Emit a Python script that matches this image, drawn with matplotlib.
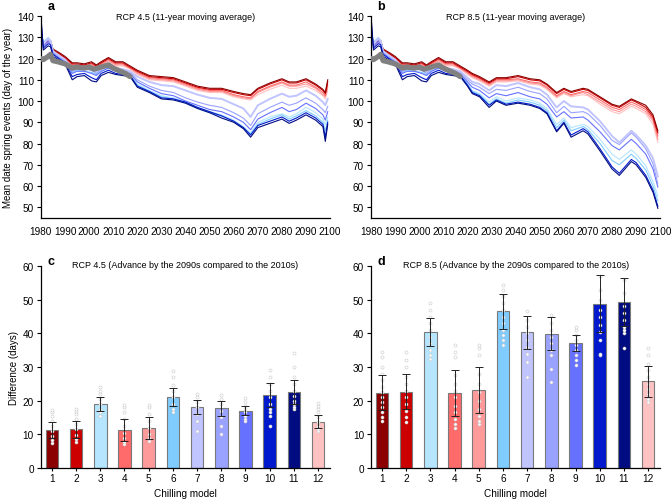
import matplotlib
matplotlib.use("Agg")
import matplotlib.pyplot as plt
import numpy as np

plt.rcParams['font.family'] = ['Liberation Sans', 'DejaVu Sans']
plt.rcParams['font.size'] = 7

models = [1, 2, 3, 4, 5, 6, 7, 8, 9, 10, 11, 12]
colors = {1: '#8B0000', 2: '#CC0000', 3: '#B5E5FF', 4: '#FF6A6A', 5: '#FF9A9A',
          6: '#80CCFF', 7: '#C0C4FF', 8: '#9AA2FF', 9: '#6672FF', 10: '#0019CC',
          11: '#000C80', 12: '#FFC2C2'}

# historical part (same for both scenarios)
yrs_hist = [1980, 1981, 1983, 1984, 1985, 1988, 1990, 1993, 1995, 1998, 2001, 2003,
            2005, 2008, 2011, 2014, 2017]
hist = {
    1: [131.5, 127.5, 129.0, 128.5, 124.5, 122.5, 121.0, 118.0, 118.0, 117.5, 118.5, 117.0, 118.5, 120.5, 118.5, 118.5, 116.5],
    2: [131.0, 127.0, 128.5, 128.0, 124.0, 122.0, 120.5, 117.5, 117.5, 117.0, 118.0, 116.5, 118.0, 120.0, 118.0, 118.0, 116.0],
    4: [130.5, 126.5, 128.5, 127.5, 124.0, 122.0, 120.0, 117.0, 117.0, 116.5, 117.5, 116.0, 117.5, 119.5, 117.5, 117.5, 115.5],
    5: [130.0, 126.5, 128.0, 127.0, 123.5, 121.5, 120.0, 116.5, 117.0, 116.5, 117.0, 115.5, 117.0, 119.0, 117.0, 117.0, 115.5],
    12: [130.0, 126.0, 127.5, 127.0, 123.5, 121.5, 119.5, 116.5, 116.5, 116.0, 116.5, 115.0, 116.5, 118.5, 116.5, 116.5, 115.0],
    7: [130.5, 127.0, 129.5, 128.0, 123.5, 121.0, 119.5, 115.5, 116.0, 115.5, 116.0, 114.0, 116.0, 117.5, 115.5, 115.0, 114.0],
    8: [131.0, 126.5, 129.0, 127.5, 123.0, 120.5, 119.0, 114.0, 115.0, 115.0, 114.5, 113.0, 115.0, 116.5, 115.0, 114.5, 113.5],
    9: [133.0, 126.0, 128.0, 127.0, 122.5, 120.0, 118.5, 113.0, 114.0, 114.0, 113.0, 112.0, 114.0, 115.5, 114.0, 113.5, 113.0],
    3: [131.0, 128.0, 130.0, 128.5, 123.5, 120.5, 119.0, 114.5, 115.0, 115.0, 115.0, 113.5, 115.0, 116.5, 114.5, 114.0, 112.5],
    6: [132.0, 127.5, 129.5, 128.0, 123.0, 120.0, 118.5, 113.5, 114.5, 114.0, 113.5, 112.5, 114.0, 115.5, 114.0, 113.0, 112.0],
    10: [138.0, 125.0, 127.0, 126.5, 122.0, 119.5, 118.0, 111.5, 112.5, 113.0, 111.0, 110.0, 113.0, 114.5, 113.0, 112.5, 112.0],
    11: [140.0, 124.0, 126.0, 125.5, 121.0, 119.0, 117.5, 110.0, 111.5, 112.0, 109.5, 109.0, 112.0, 113.5, 112.5, 112.0, 111.5],
}

# RCP 4.5 projections
yrs_45 = [2020, 2025, 2030, 2035, 2040, 2045, 2050, 2055, 2060, 2064, 2067, 2070, 2075,
          2080, 2083, 2086, 2090, 2094, 2097, 2098, 2099]
rcp45 = {
    1: [114.5, 112.0, 111.5, 111.0, 109.0, 107.0, 106.0, 106.0, 104.5, 103.5, 103.0, 106.0, 108.5, 110.5, 109.0, 109.0, 110.5, 108.0, 105.5, 104.0, 110.0],
    2: [114.0, 111.5, 111.0, 110.5, 108.5, 106.5, 105.5, 105.5, 104.0, 103.0, 102.5, 105.5, 108.0, 110.0, 108.5, 108.5, 110.0, 107.5, 105.0, 103.5, 109.0],
    4: [113.5, 111.0, 110.5, 110.0, 108.0, 106.0, 105.0, 105.0, 103.0, 102.0, 101.5, 104.5, 107.0, 109.0, 107.5, 107.5, 109.0, 106.5, 104.0, 102.5, 107.5],
    5: [113.0, 110.5, 110.0, 109.5, 107.5, 105.5, 104.5, 104.5, 102.5, 101.5, 101.0, 104.0, 106.5, 108.5, 107.0, 107.0, 108.0, 106.0, 103.0, 102.0, 106.5],
    12: [112.5, 110.0, 109.5, 109.0, 107.0, 105.0, 104.0, 104.0, 102.0, 101.0, 100.5, 103.0, 105.5, 107.5, 106.0, 106.0, 107.0, 105.0, 102.5, 101.0, 105.0],
    7: [111.5, 109.0, 107.5, 107.0, 105.0, 103.0, 101.5, 101.0, 98.5, 96.5, 92.5, 98.0, 101.0, 103.5, 102.0, 102.5, 105.0, 102.5, 99.5, 98.0, 101.0],
    8: [110.0, 107.0, 105.0, 104.0, 101.5, 99.5, 98.0, 97.0, 94.5, 92.0, 88.5, 94.0, 97.0, 99.5, 98.0, 99.0, 101.5, 99.0, 96.0, 94.5, 97.5],
    9: [109.0, 106.0, 103.5, 102.5, 100.0, 98.0, 96.0, 95.0, 92.5, 90.0, 86.5, 91.5, 94.5, 97.0, 95.0, 96.0, 99.0, 96.5, 93.5, 91.0, 95.0],
    3: [108.0, 105.0, 102.5, 101.5, 99.5, 97.0, 95.0, 93.5, 91.0, 88.0, 85.0, 90.0, 92.5, 94.0, 92.5, 94.0, 97.0, 94.5, 91.5, 89.0, 92.5],
    6: [107.5, 104.5, 102.0, 101.0, 99.0, 96.5, 94.5, 93.0, 90.5, 87.5, 84.5, 89.0, 91.5, 93.5, 91.5, 93.0, 95.5, 93.0, 90.0, 86.0, 91.0],
    10: [107.0, 104.5, 101.5, 101.0, 99.5, 97.0, 95.0, 93.0, 90.5, 87.5, 84.0, 88.5, 90.5, 92.5, 90.5, 92.0, 94.5, 92.0, 89.0, 83.0, 90.0],
    11: [106.5, 104.0, 101.0, 100.5, 99.0, 96.5, 94.5, 92.0, 90.0, 87.0, 83.0, 87.5, 89.5, 91.5, 89.5, 91.0, 93.5, 91.0, 88.0, 81.0, 89.0],
}

# RCP 8.5 projections
yrs_85 = [2020, 2022, 2025, 2029, 2032, 2036, 2041, 2046, 2050, 2053, 2057, 2060, 2063,
          2068, 2070, 2075, 2080, 2083, 2088, 2090, 2094, 2097, 2099]
rcp85 = {
    1: [114.5, 113.0, 111.5, 109.0, 111.0, 111.0, 112.0, 110.5, 110.0, 108.0, 104.0, 106.0, 104.5, 106.0, 105.5, 102.0, 98.5, 97.5, 101.0, 100.0, 98.0, 93.5, 86.0],
    2: [114.0, 112.5, 111.0, 108.5, 110.5, 110.5, 111.5, 110.0, 109.5, 107.5, 103.5, 105.5, 104.0, 105.5, 105.0, 101.5, 98.0, 97.0, 100.5, 99.5, 97.0, 92.5, 85.0],
    4: [113.5, 112.0, 110.5, 108.0, 110.0, 110.0, 110.5, 109.0, 108.5, 106.5, 102.5, 104.5, 103.0, 104.5, 104.0, 100.5, 97.0, 96.0, 99.5, 98.5, 96.0, 91.5, 83.5],
    5: [113.0, 111.5, 110.0, 107.5, 109.5, 109.5, 110.0, 108.5, 108.0, 106.0, 102.0, 104.0, 102.5, 104.0, 103.0, 99.5, 96.0, 95.0, 98.5, 97.5, 95.0, 90.5, 82.0],
    12: [112.5, 111.0, 109.5, 107.0, 109.0, 109.0, 109.5, 108.0, 107.5, 105.5, 101.5, 103.5, 102.0, 103.0, 102.5, 98.5, 95.0, 94.0, 97.5, 96.5, 94.0, 89.0, 80.5],
    7: [111.0, 109.0, 108.0, 105.0, 107.5, 107.0, 108.5, 106.5, 105.5, 103.0, 97.0, 100.0, 97.5, 97.0, 96.0, 90.5, 83.5, 80.5, 86.0, 84.0, 79.0, 73.0, 64.5],
    8: [110.0, 108.0, 106.5, 103.5, 105.5, 105.0, 106.5, 104.5, 103.5, 101.0, 94.5, 97.5, 94.5, 95.0, 94.0, 88.5, 81.5, 79.5, 85.0, 83.0, 77.5, 70.5, 61.0],
    9: [109.0, 106.5, 105.0, 101.5, 103.5, 102.5, 104.0, 102.0, 101.0, 98.5, 92.5, 95.0, 92.0, 92.5, 91.0, 85.5, 79.0, 77.0, 82.0, 80.0, 75.0, 68.0, 59.5],
    3: [108.5, 105.0, 103.5, 99.5, 102.0, 100.0, 101.5, 100.5, 99.0, 96.5, 89.0, 92.0, 87.5, 89.0, 88.0, 82.0, 75.0, 72.5, 77.0, 75.0, 69.5, 62.0, 55.5],
    6: [108.0, 104.5, 103.0, 98.5, 101.0, 99.0, 100.5, 99.5, 98.0, 95.5, 87.5, 91.0, 86.0, 88.0, 86.5, 80.0, 72.0, 70.0, 75.0, 73.0, 67.5, 60.0, 53.0],
    10: [107.5, 104.0, 102.5, 98.0, 100.5, 98.5, 99.5, 98.5, 97.0, 94.5, 86.0, 90.0, 84.0, 87.0, 85.5, 77.5, 69.0, 66.0, 72.5, 71.0, 65.0, 58.0, 50.5],
    11: [107.0, 103.5, 102.0, 97.0, 100.0, 98.0, 99.0, 98.0, 96.5, 94.0, 85.5, 89.5, 83.0, 86.0, 84.5, 76.5, 68.0, 65.0, 71.5, 70.0, 64.0, 57.0, 49.5],
}

# observed mean (grey)
yrs_obs = [1980, 1981, 1983, 1984, 1985, 1987, 1990, 1993, 1995, 1998, 2000, 2002, 2005,
           2008, 2010, 2013, 2015, 2017]
obs = [120, 119.5, 121, 122, 119, 118.5, 117.5, 115.5, 116, 115.5, 116, 115, 116, 117,
       115.5, 114, 113, 111.5]

# bar panels: mean advance and error bar limits
adv45 = [11.2, 11.5, 19.0, 11.2, 11.9, 21.0, 18.0, 17.7, 16.9, 21.6, 22.5, 13.6]
lo45 = [8.8, 9.0, 17.0, 8.0, 8.7, 18.3, 16.0, 15.4, 15.6, 18.0, 19.0, 11.8]
hi45 = [13.6, 13.9, 21.0, 14.5, 15.1, 23.6, 20.1, 20.0, 18.3, 25.2, 26.0, 15.6]
adv85 = [22.4, 22.6, 40.4, 22.2, 23.2, 46.6, 40.3, 39.9, 37.1, 48.8, 49.4, 25.8]
lo85 = [17.2, 17.4, 36.1, 15.4, 16.3, 41.4, 35.4, 34.9, 34.6, 40.4, 42.2, 21.1]
hi85 = [27.6, 27.8, 44.7, 29.1, 30.1, 51.8, 45.2, 44.9, 39.6, 57.3, 56.5, 30.4]

pts45 = [
    [7.5, 8.2, 9.5, 11, 12.5, 14, 15.5, 16.5, 17.2],
    [7.8, 8.5, 9.8, 11.5, 13, 14.5, 16, 17, 17.4],
    [15.5, 16.5, 17.5, 19, 20.5, 22, 23, 24],
    [7, 7.8, 9, 10.5, 12.5, 14.5, 16.5, 18, 18.8],
    [8, 8.8, 10, 12, 14, 16, 18.2, 18.8],
    [16.5, 17.5, 19, 21, 23, 24.5, 27, 28.8],
    [11, 14, 16, 18, 19.5, 21, 22],
    [10, 12.5, 15, 17, 19, 20.5, 21.8],
    [14, 14.5, 15.5, 16.5, 17.5, 18.5, 19.5, 20.8],
    [12.5, 15.5, 16.5, 17.5, 19, 21, 23, 25, 27, 29],
    [17.5, 18, 19, 20, 21.5, 23, 25, 27, 30, 34.2],
    [11, 11.5, 12.5, 13.5, 15, 16.5, 17.5, 18.5, 19.2],
]
pts85 = [
    [14, 15, 16.5, 18, 19.5, 21, 22.5, 24, 26, 28, 30, 33, 34.5],
    [13.5, 15, 17, 19, 21, 23, 25, 27, 30, 32, 34.5],
    [32.5, 33.5, 35, 37, 39, 41, 43, 45, 47, 49],
    [12, 13, 14.5, 16.5, 18.5, 21, 23, 25, 27.5, 33, 34.5, 36.5],
    [13, 14, 15.5, 17.5, 20, 22.5, 25, 28, 33.5, 35.5, 36.5],
    [36.5, 38, 39.5, 41, 43, 45, 47, 49, 51, 53, 54.5],
    [27, 31.5, 34, 36, 38, 40, 42, 44, 46.5],
    [25.5, 29.5, 33.5, 35, 37, 39, 41, 43, 45.5],
    [30.5, 32, 33.5, 35, 36.5, 38, 39.5, 41, 42],
    [33.5, 34, 38, 40.5, 42.5, 45, 47, 50, 53, 57],
    [35.5, 40, 41, 42, 44, 46, 48, 52, 56, 59],
    [19.5, 20.5, 22, 23.5, 25, 27, 29, 31, 33.5, 35.5],
]

fig = plt.figure(figsize=(6.71, 5.02), dpi=100)
axA = fig.add_axes([0.061, 0.564, 0.431, 0.402])
axB = fig.add_axes([0.553, 0.564, 0.431, 0.402])
axC = fig.add_axes([0.061, 0.066, 0.431, 0.402])
axD = fig.add_axes([0.553, 0.066, 0.431, 0.402])

draw_order = [12, 5, 4, 2, 1, 3, 6, 9, 8, 7, 10, 11]


def style(ax):
    for s in ['top', 'right']:
        ax.spines[s].set_visible(False)
    ax.spines['left'].set_linewidth(0.9)
    ax.spines['bottom'].set_linewidth(0.9)
    ax.tick_params(direction='out', length=3, width=0.8, labelsize=7.2, pad=2)


for ax, yrs, proj, title, letter in [(axA, yrs_45, rcp45, 'RCP 4.5 (11-year moving average)', 'a'),
                                      (axB, yrs_85, rcp85, 'RCP 8.5 (11-year moving average)', 'b')]:
    for m in draw_order:
        x = yrs_hist + yrs
        y = hist[m] + proj[m]
        lw = 1.4 if m == 7 else 0.8
        ax.plot(x, y, color=colors[m], lw=lw, zorder=2)
    ax.plot(yrs_obs, obs, color='#808080', lw=3.8, solid_capstyle='round', zorder=3)
    ax.set_xlim(1980, 2100)
    ax.set_ylim(45, 140)
    ax.set_xticks(range(1980, 2101, 10))
    ax.set_yticks(range(50, 141, 10))
    style(ax)
    ax.tick_params(axis='x', length=0, pad=6)
    ax.text(0.5, 1.0, title, transform=ax.transAxes, ha='center', va='center', fontsize=6.5)
    ax.text(0.022, 1.05, letter, transform=ax.transAxes, ha='left', va='center',
            fontsize=9, fontweight='bold')

axA.set_ylabel('Mean date spring events (day of the year)', fontsize=7.0, labelpad=3)

for ax, adv, lo, hi, pts, title, letter in [
        (axC, adv45, lo45, hi45, pts45, 'RCP 4.5 (Advance by the 2090s compared to the 2010s)', 'c'),
        (axD, adv85, lo85, hi85, pts85, 'RCP 8.5 (Advance by the 2090s compared to the 2010s)', 'd')]:
    ax.bar(models, adv, width=0.52, color=[colors[m] for m in models],
           edgecolor='#7a7a7a', linewidth=0.8, zorder=2)
    for m, p in zip(models, pts):
        ax.plot([m] * len(p), p, ls='none', marker='o', ms=2.2, mfc='white',
                mec='#c8c8c8', mew=0.4, zorder=3)
    err = [np.array(adv) - np.array(lo), np.array(hi) - np.array(adv)]
    ax.errorbar(models, adv, yerr=err, fmt='none', ecolor='#222222', elinewidth=0.7,
                capsize=3, capthick=0.7, zorder=4)
    ax.set_xlim(0.55, 12.5)
    ax.set_ylim(0, 60)
    ax.set_xticks(models)
    ax.set_yticks(range(0, 61, 10))
    style(ax)
    ax.tick_params(axis='x', length=2)
    ax.set_xlabel('Chilling model', fontsize=7.2, labelpad=3)
    ax.text(0.5, 1.01, title, transform=ax.transAxes, ha='center', va='center', fontsize=6.5)
    ax.text(0.022, 1.025, letter, transform=ax.transAxes, ha='left', va='center',
            fontsize=9, fontweight='bold')

axC.set_ylabel('Difference (days)', fontsize=7.0, labelpad=3)

fig.savefig('out.png', dpi=100)
